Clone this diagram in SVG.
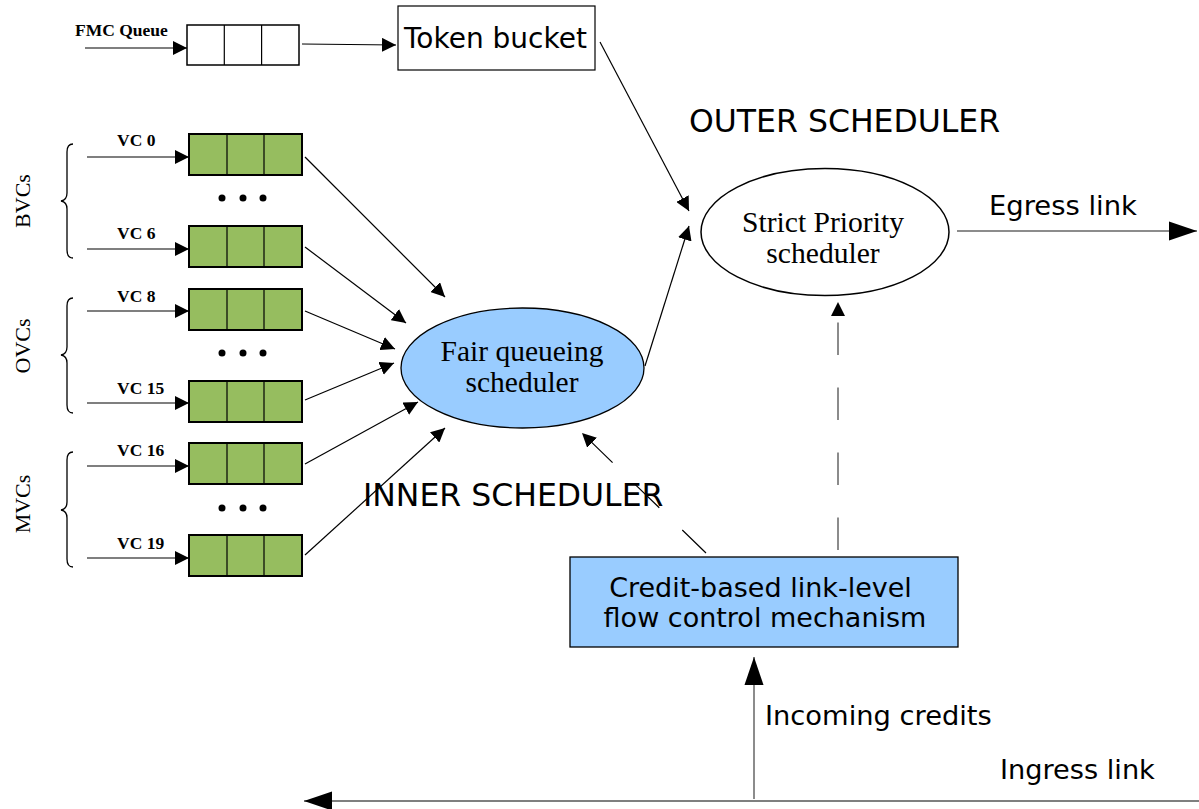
<svg xmlns="http://www.w3.org/2000/svg" width="1199" height="809" viewBox="0 0 1199 809">
<defs>
<style>
.q{fill:#96bd5f;stroke:#000;stroke-width:2}
.fq{fill:#fff;stroke:#000;stroke-width:1.5}
.ln{stroke:#000;stroke-width:1.2;fill:none}
.gl{stroke:#666;stroke-width:1.5;fill:none}
.br{stroke:#000;stroke-width:1.3;fill:none}
.vc{font-family:"Liberation Serif",serif;font-weight:bold;font-size:17.5px}
.sr{font-family:"Liberation Serif",serif}
.sa{font-family:"DejaVu Sans",sans-serif}
</style>
<marker id="a" viewBox="0 0 10 10" refX="10" refY="5" markerWidth="14" markerHeight="14" markerUnits="userSpaceOnUse" orient="auto"><path d="M0,0L10,5L0,10z" fill="#000"/></marker>
<marker id="big" viewBox="0 0 10 10" refX="10" refY="5" markerWidth="28" markerHeight="28" markerUnits="userSpaceOnUse" orient="auto"><path d="M0,1.6L10,5L0,8.4z" fill="#000"/></marker>
</defs>
<rect width="1199" height="809" fill="#fff"/>

<g id="fmc-queue">
<text class="vc" x="75" y="36" font-size="19">FMC Queue</text>
<rect class="fq" x="187" y="25" width="112" height="40"/>
<line class="ln" x1="224.3" y1="25" x2="224.3" y2="65"/>
<line class="ln" x1="261.6" y1="25" x2="261.6" y2="65"/>
</g>

<g id="token-bucket">
<rect x="398" y="6" width="197" height="64" fill="#fff" stroke="#000" stroke-width="1.2"/>
<text class="sa" x="404" y="48" font-size="28">Token bucket</text>
</g>

<g id="vc0">
<text class="vc" x="117" y="146">VC 0</text>
<rect class="q" x="189" y="134" width="113" height="41"/>
<line class="ln" x1="227" y1="134" x2="227" y2="175" stroke-width="2"/>
<line class="ln" x1="264" y1="134" x2="264" y2="175" stroke-width="2"/>
</g>
<g id="vc6">
<text class="vc" x="117" y="239">VC 6</text>
<rect class="q" x="189" y="226" width="113" height="41"/>
<line class="ln" x1="227" y1="226" x2="227" y2="267" stroke-width="2"/>
<line class="ln" x1="264" y1="226" x2="264" y2="267" stroke-width="2"/>
</g>
<g id="vc8">
<text class="vc" x="117" y="302">VC 8</text>
<rect class="q" x="189" y="289" width="113" height="41"/>
<line class="ln" x1="227" y1="289" x2="227" y2="330" stroke-width="2"/>
<line class="ln" x1="264" y1="289" x2="264" y2="330" stroke-width="2"/>
</g>
<g id="vc15">
<text class="vc" x="117" y="394">VC 15</text>
<rect class="q" x="189" y="381" width="113" height="41"/>
<line class="ln" x1="227" y1="381" x2="227" y2="422" stroke-width="2"/>
<line class="ln" x1="264" y1="381" x2="264" y2="422" stroke-width="2"/>
</g>
<g id="vc16">
<text class="vc" x="117" y="456">VC 16</text>
<rect class="q" x="189" y="443" width="113" height="41"/>
<line class="ln" x1="227" y1="443" x2="227" y2="484" stroke-width="2"/>
<line class="ln" x1="264" y1="443" x2="264" y2="484" stroke-width="2"/>
</g>
<g id="vc19">
<text class="vc" x="117" y="549">VC 19</text>
<rect class="q" x="189" y="535" width="113" height="41"/>
<line class="ln" x1="227" y1="535" x2="227" y2="576" stroke-width="2"/>
<line class="ln" x1="264" y1="535" x2="264" y2="576" stroke-width="2"/>
</g>

<g id="dots">
<circle cx="222" cy="198" r="3.5"/><circle cx="243" cy="198" r="3.5"/><circle cx="263" cy="198" r="3.5"/>
<circle cx="222" cy="353" r="3.5"/><circle cx="243" cy="353" r="3.5"/><circle cx="263" cy="353" r="3.5"/>
<circle cx="222" cy="508" r="3.5"/><circle cx="243" cy="508" r="3.5"/><circle cx="263" cy="508" r="3.5"/>
</g>

<g id="groups">
<path class="br" d="M73,144 Q67,144 67,152 L67,193 Q67,200 61,201 Q67,202 67,209 L67,250 Q67,258 73,258"/>
<path class="br" d="M73,298 Q67,298 67,306 L67,347 Q67,354 61,355 Q67,356 67,363 L67,405 Q67,413 73,413"/>
<path class="br" d="M73,452 Q67,452 67,460 L67,502 Q67,509 61,510 Q67,511 67,518 L67,559 Q67,567 73,567"/>
<text class="sr" font-size="22" transform="translate(30,201) rotate(-90)" text-anchor="middle">BVCs</text>
<text class="sr" font-size="22" transform="translate(30,346) rotate(-90)" text-anchor="middle">OVCs</text>
<text class="sr" font-size="22" transform="translate(30,504) rotate(-90)" text-anchor="middle">MVCs</text>
</g>

<g id="fair-queueing">
<ellipse cx="522.5" cy="368" rx="121.5" ry="60" fill="#99ccff" stroke="#000" stroke-width="1.3"/>
<text class="sr" x="522" y="361" font-size="29.5" text-anchor="middle">Fair queueing</text>
<text class="sr" x="522" y="392" font-size="29.5" text-anchor="middle">scheduler</text>
</g>

<g id="strict-priority">
<ellipse cx="825" cy="232" rx="124" ry="63.5" fill="#fff" stroke="#000" stroke-width="1.5"/>
<text class="sr" x="823" y="232" font-size="29.6" text-anchor="middle">Strict Priority</text>
<text class="sr" x="823" y="263" font-size="29.6" text-anchor="middle">scheduler</text>
</g>

<g id="credit-fc">
<rect x="570" y="557" width="388" height="90" fill="#99ccff" stroke="#000" stroke-width="1.3"/>
<text class="sa" x="760.5" y="597" font-size="27" text-anchor="middle">Credit-based link-level</text>
<text class="sa" x="765" y="627" font-size="27" text-anchor="middle">flow control mechanism</text>
</g>

<g id="labels">
<text class="sa" x="689" y="132" font-size="31.5">OUTER SCHEDULER</text>
<text class="sa" x="363" y="506" font-size="31.5">INNER SCHEDULER</text>
<text class="sa" x="989" y="215" font-size="27.4">Egress link</text>
<text class="sa" x="765" y="725" font-size="27.3">Incoming credits</text>
<text class="sa" x="1000" y="779" font-size="27.2">Ingress link</text>
</g>

<g id="connectors">
<line class="ln" x1="85" y1="48" x2="187" y2="48" marker-end="url(#a)"/>
<line class="ln" x1="87" y1="157" x2="189" y2="157" marker-end="url(#a)"/>
<line class="ln" x1="87" y1="249" x2="189" y2="249" marker-end="url(#a)"/>
<line class="ln" x1="87" y1="311" x2="189" y2="311" marker-end="url(#a)"/>
<line class="ln" x1="87" y1="403" x2="189" y2="403" marker-end="url(#a)"/>
<line class="ln" x1="87" y1="466" x2="189" y2="466" marker-end="url(#a)"/>
<line class="ln" x1="87" y1="558" x2="189" y2="558" marker-end="url(#a)"/>
<line class="ln" x1="302" y1="44" x2="396" y2="45" marker-end="url(#a)"/>
<line class="ln" x1="600" y1="42" x2="689" y2="211" marker-end="url(#a)"/>
<line class="ln" x1="645" y1="366" x2="689" y2="226" marker-end="url(#a)"/>
<line class="ln" x1="305" y1="157" x2="445" y2="297" marker-end="url(#a)"/>
<line class="ln" x1="305" y1="247" x2="406" y2="323" marker-end="url(#a)"/>
<line class="ln" x1="305" y1="311" x2="395" y2="349" marker-end="url(#a)"/>
<line class="ln" x1="305" y1="400" x2="394" y2="363" marker-end="url(#a)"/>
<line class="ln" x1="305" y1="464" x2="418" y2="402" marker-end="url(#a)"/>
<line class="ln" x1="305" y1="555" x2="445" y2="428" marker-end="url(#a)"/>
<line class="gl" x1="957" y1="231" x2="1197" y2="231" marker-end="url(#big)"/>
<line class="gl" x1="838" y1="550" x2="838" y2="302" stroke-dasharray="32.5 32.5" marker-end="url(#a)"/>
<line class="ln" x1="706" y1="553" x2="582" y2="433" stroke-dasharray="33 32" marker-end="url(#a)"/>
<line class="gl" x1="754" y1="799" x2="754" y2="657" marker-end="url(#big)"/>
<line class="ln" x1="1199" y1="801" x2="304" y2="801" marker-end="url(#big)"/>
</g>
</svg>
